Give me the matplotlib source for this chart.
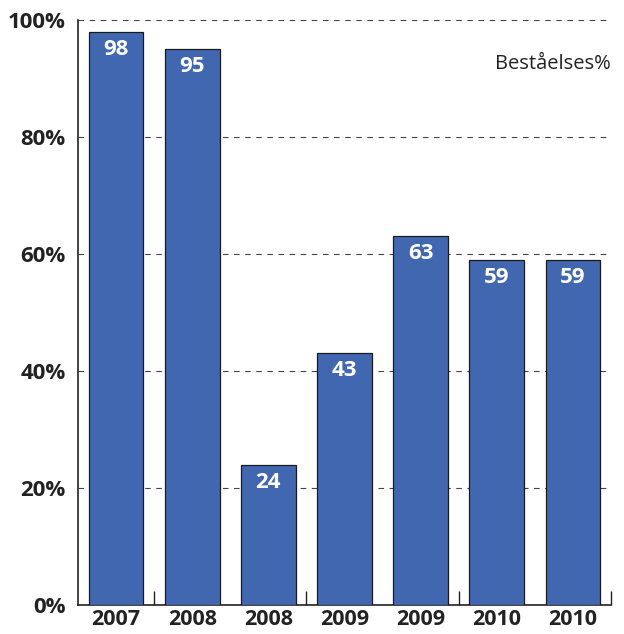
import numpy as np
import matplotlib.pyplot as plt

plt.rcParams['font.family'] = ['Open Sans', 'DejaVu Sans']

years = ['2007', '2008', '2008', '2009', '2009', '2010', '2010']
values = [98, 95, 24, 43, 63, 59, 59]
yticks = [0, 20, 40, 60, 80, 100]

fig = plt.figure(figsize=(6.24, 6.34), dpi=100)
ax = fig.add_axes((78/624, 29/634, 533/624, 585/634))

x = np.arange(len(values))
bars = ax.bar(x, values, width=0.72, color='#4167b1', edgecolor='#1a1a1a',
              linewidth=0.9, zorder=3)

for b, v in zip(bars, values):
    ax.annotate(str(v), (b.get_x() + b.get_width()/2, v), xytext=(0, -5),
                textcoords='offset points', ha='center', va='top',
                color='white', fontsize=16, fontweight='bold', zorder=4)

ax.set_xlim(-0.5, len(values) - 0.5)
ax.set_ylim(0, 100)
ax.set_yticks(yticks)
ax.set_yticklabels([f'{t}%' for t in yticks], fontsize=16, fontweight='bold',
                   color='#222222')
ax.tick_params(axis='y', length=0, pad=9)

# group boundary ticks on x, labels at bar centers
ax.set_xticks([0.5, 2.5, 4.5, 6.5])
ax.set_xticklabels([])
ax.tick_params(axis='x', which='major', direction='in', length=10, width=1,
               color='#222222')
ax.set_xticks(x, minor=True)
ax.set_xticklabels(years, minor=True, fontsize=15.5, fontweight='bold',
                   color='#222222')
ax.tick_params(axis='x', which='minor', length=0, pad=3)

ax.yaxis.grid(True, linestyle=(0, (5, 5)), color='#444444', linewidth=0.8,
              zorder=0)
ax.set_axisbelow(True)
for s in ['top', 'right']:
    ax.spines[s].set_visible(False)
for s in ['left', 'bottom']:
    ax.spines[s].set_color('#222222')
    ax.spines[s].set_linewidth(1.2)

ax.text(1.0, 0.925, 'Beståelses%', transform=ax.transAxes, ha='right',
        va='center', fontsize=14.5, color='#222222')

fig.savefig('out.png', dpi=100)
